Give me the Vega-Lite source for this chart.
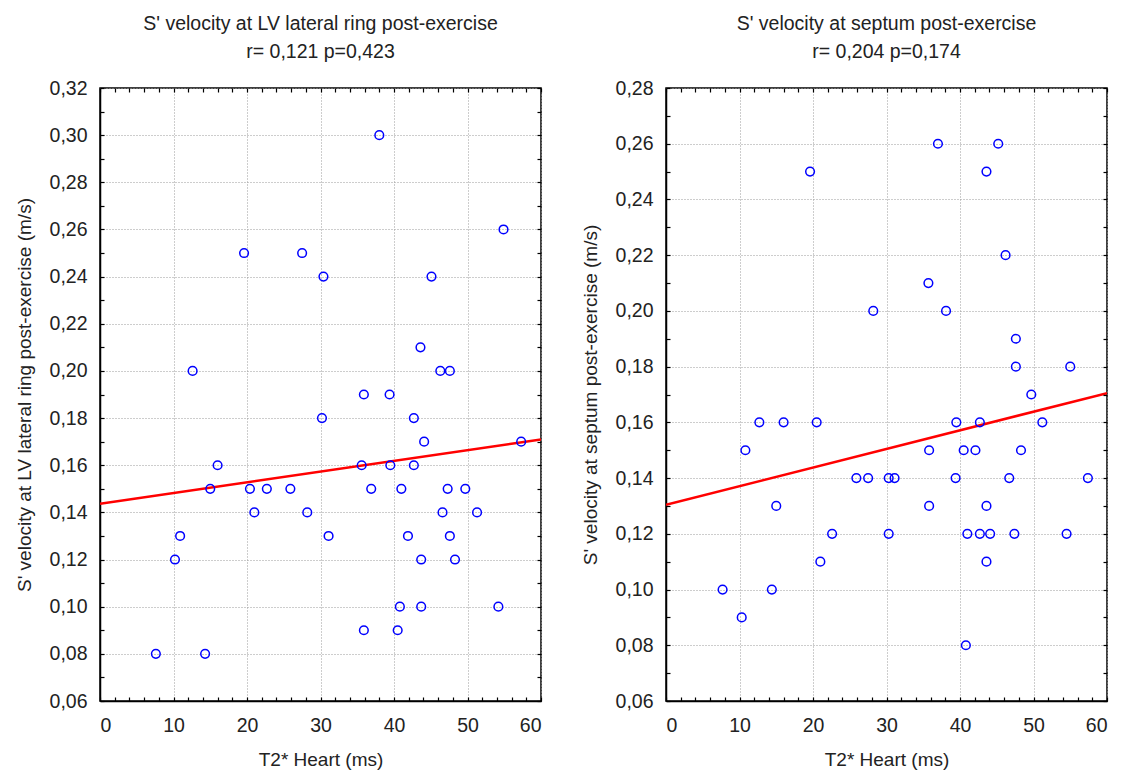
{
  "$schema": "https://vega.github.io/schema/vega-lite/v6.json",
  "background": "white",
  "padding": {"left": 14, "top": 12, "right": 3, "bottom": 0},
  "spacing": 37,
  "datasets": {
    "left": [
      {"t2": 7.6, "s": 0.08}, {"t2": 10.2, "s": 0.12}, {"t2": 10.9, "s": 0.13}, {"t2": 12.6, "s": 0.20},
      {"t2": 14.3, "s": 0.08}, {"t2": 15.0, "s": 0.15}, {"t2": 16.0, "s": 0.16}, {"t2": 19.6, "s": 0.25},
      {"t2": 20.4, "s": 0.15}, {"t2": 21.0, "s": 0.14}, {"t2": 22.7, "s": 0.15}, {"t2": 25.9, "s": 0.15},
      {"t2": 27.5, "s": 0.25}, {"t2": 28.2, "s": 0.14}, {"t2": 30.2, "s": 0.18}, {"t2": 30.4, "s": 0.24},
      {"t2": 31.1, "s": 0.13}, {"t2": 35.6, "s": 0.16}, {"t2": 35.9, "s": 0.19}, {"t2": 35.9, "s": 0.09},
      {"t2": 36.9, "s": 0.15}, {"t2": 38.0, "s": 0.30}, {"t2": 39.4, "s": 0.19}, {"t2": 39.5, "s": 0.16},
      {"t2": 40.5, "s": 0.09}, {"t2": 40.8, "s": 0.10}, {"t2": 41.0, "s": 0.15}, {"t2": 41.9, "s": 0.13},
      {"t2": 42.7, "s": 0.18}, {"t2": 42.7, "s": 0.16}, {"t2": 43.6, "s": 0.21}, {"t2": 43.7, "s": 0.12},
      {"t2": 43.7, "s": 0.10}, {"t2": 44.1, "s": 0.17}, {"t2": 45.1, "s": 0.24}, {"t2": 46.3, "s": 0.20},
      {"t2": 46.6, "s": 0.14}, {"t2": 47.3, "s": 0.15}, {"t2": 47.6, "s": 0.20}, {"t2": 47.6, "s": 0.13},
      {"t2": 48.3, "s": 0.12}, {"t2": 49.7, "s": 0.15}, {"t2": 51.3, "s": 0.14}, {"t2": 54.2, "s": 0.10},
      {"t2": 54.9, "s": 0.26}, {"t2": 57.3, "s": 0.17}
    ],
    "leftFit": [{"t2": 0, "s": 0.1437}, {"t2": 60, "s": 0.1709}],
    "right": [
      {"t2": 7.7, "s": 0.10}, {"t2": 10.3, "s": 0.09}, {"t2": 10.8, "s": 0.15}, {"t2": 12.7, "s": 0.16},
      {"t2": 14.4, "s": 0.10}, {"t2": 15.0, "s": 0.13}, {"t2": 16.0, "s": 0.16}, {"t2": 19.6, "s": 0.25},
      {"t2": 20.5, "s": 0.16}, {"t2": 21.0, "s": 0.11}, {"t2": 22.6, "s": 0.12}, {"t2": 25.9, "s": 0.14},
      {"t2": 27.5, "s": 0.14}, {"t2": 28.2, "s": 0.20}, {"t2": 30.3, "s": 0.14}, {"t2": 30.3, "s": 0.12},
      {"t2": 31.1, "s": 0.14}, {"t2": 35.7, "s": 0.21}, {"t2": 35.8, "s": 0.15}, {"t2": 35.8, "s": 0.13},
      {"t2": 37.0, "s": 0.26}, {"t2": 38.1, "s": 0.20}, {"t2": 39.4, "s": 0.14}, {"t2": 39.5, "s": 0.16},
      {"t2": 40.5, "s": 0.15}, {"t2": 40.8, "s": 0.08}, {"t2": 41.0, "s": 0.12}, {"t2": 42.1, "s": 0.15},
      {"t2": 42.7, "s": 0.16}, {"t2": 42.7, "s": 0.12}, {"t2": 43.6, "s": 0.25}, {"t2": 43.6, "s": 0.13},
      {"t2": 43.6, "s": 0.11}, {"t2": 44.1, "s": 0.12}, {"t2": 45.2, "s": 0.26}, {"t2": 46.2, "s": 0.22},
      {"t2": 46.7, "s": 0.14}, {"t2": 47.4, "s": 0.12}, {"t2": 47.6, "s": 0.19}, {"t2": 47.6, "s": 0.18},
      {"t2": 48.3, "s": 0.15}, {"t2": 49.7, "s": 0.17}, {"t2": 51.2, "s": 0.16}, {"t2": 54.5, "s": 0.12},
      {"t2": 55.0, "s": 0.18}, {"t2": 57.4, "s": 0.14}
    ],
    "rightFit": [{"t2": 0, "s": 0.1304}, {"t2": 60, "s": 0.1705}]
  },
  "hconcat": [
    {
      "width": 441,
      "height": 613,
      "title": {"text": ["S' velocity at LV lateral ring post-exercise", "r= 0,121 p=0,423"]},
      "layer": [
        {
          "data": {"name": "leftFit"},
          "mark": {"type": "line", "color": "#ff0000", "strokeWidth": 2.5, "clip": true},
          "encoding": {
            "x": {"field": "t2", "type": "quantitative", "scale": {"domain": [0, 60], "nice": false},
              "axis": {"orient": "top", "title": null, "labels": false, "grid": false, "domain": false, "ticks": true, "tickSize": -4, "tickColor": "#000000", "tickWidth": 1.2, "zindex": 2,
                "values": [0,2,4,6,8,10,12,14,16,18,20,22,24,26,28,30,32,34,36,38,40,42,44,46,48,50,52,54,56,58,60]}},
            "y": {"field": "s", "type": "quantitative", "scale": {"domain": [0.06, 0.32], "nice": false, "zero": false},
              "axis": {"orient": "right", "title": null, "labels": false, "grid": false, "domain": false, "ticks": true, "tickSize": -4, "tickColor": "#000000", "tickWidth": 1.2, "zindex": 2,
                "values": [0.06,0.07,0.08,0.09,0.10,0.11,0.12,0.13,0.14,0.15,0.16,0.17,0.18,0.19,0.20,0.21,0.22,0.23,0.24,0.25,0.26,0.27,0.28,0.29,0.30,0.31,0.32]}}
          }
        },
        {
          "data": {"name": "left"},
          "mark": {"type": "point", "shape": "circle", "filled": false, "color": "#0000ff", "size": 75, "strokeWidth": 1.5, "opacity": 1},
          "encoding": {
            "x": {"field": "t2", "type": "quantitative", "title": "T2* Heart (ms)",
              "axis": {"orient": "bottom", "ticks": true, "tickSize": -4, "tickColor": "#000000", "tickWidth": 1.2, "domain": true, "grid": true, "labelPadding": 19, "titlePadding": 16,
                "values": [0,2,4,6,8,10,12,14,16,18,20,22,24,26,28,30,32,34,36,38,40,42,44,46,48,50,52,54,56,58,60],
                "labelExpr": "datum.value % 10 === 0 ? datum.label : ''",
                "gridOpacity": {"condition": {"test": "datum.value % 10 === 0", "value": 1}, "value": 0}}},
            "y": {"field": "s", "type": "quantitative", "title": "S' velocity at LV lateral ring post-exercise (m/s)",
              "axis": {"orient": "left", "ticks": true, "tickSize": -4, "tickColor": "#000000", "tickWidth": 1.2, "domain": true, "grid": true, "labelPadding": 17, "titlePadding": 14.5,
                "values": [0.06,0.07,0.08,0.09,0.10,0.11,0.12,0.13,0.14,0.15,0.16,0.17,0.18,0.19,0.20,0.21,0.22,0.23,0.24,0.25,0.26,0.27,0.28,0.29,0.30,0.31,0.32],
                "labelExpr": "round(datum.value*100) % 2 === 0 ? replace(format(datum.value, '.2f'), '.', ',') : ''",
                "gridOpacity": {"condition": {"test": "round(datum.value*100) % 2 === 0", "value": 1}, "value": 0}}}
          }
        }
      ],
      "resolve": {"axis": {"x": "independent", "y": "independent"}}
    },
    {
      "width": 441,
      "height": 613,
      "title": {"text": ["S' velocity at septum post-exercise", "r= 0,204 p=0,174"]},
      "layer": [
        {
          "data": {"name": "rightFit"},
          "mark": {"type": "line", "color": "#ff0000", "strokeWidth": 2.5, "clip": true},
          "encoding": {
            "x": {"field": "t2", "type": "quantitative", "scale": {"domain": [0, 60], "nice": false},
              "axis": {"orient": "top", "title": null, "labels": false, "grid": false, "domain": false, "ticks": true, "tickSize": -4, "tickColor": "#000000", "tickWidth": 1.2, "zindex": 2,
                "values": [0,2,4,6,8,10,12,14,16,18,20,22,24,26,28,30,32,34,36,38,40,42,44,46,48,50,52,54,56,58,60]}},
            "y": {"field": "s", "type": "quantitative", "scale": {"domain": [0.06, 0.28], "nice": false, "zero": false},
              "axis": {"orient": "right", "title": null, "labels": false, "grid": false, "domain": false, "ticks": true, "tickSize": -4, "tickColor": "#000000", "tickWidth": 1.2, "zindex": 2,
                "values": [0.06,0.07,0.08,0.09,0.10,0.11,0.12,0.13,0.14,0.15,0.16,0.17,0.18,0.19,0.20,0.21,0.22,0.23,0.24,0.25,0.26,0.27,0.28]}}
          }
        },
        {
          "data": {"name": "right"},
          "mark": {"type": "point", "shape": "circle", "filled": false, "color": "#0000ff", "size": 75, "strokeWidth": 1.5, "opacity": 1},
          "encoding": {
            "x": {"field": "t2", "type": "quantitative", "title": "T2* Heart (ms)",
              "axis": {"orient": "bottom", "ticks": true, "tickSize": -4, "tickColor": "#000000", "tickWidth": 1.2, "domain": true, "grid": true, "labelPadding": 19, "titlePadding": 16,
                "values": [0,2,4,6,8,10,12,14,16,18,20,22,24,26,28,30,32,34,36,38,40,42,44,46,48,50,52,54,56,58,60],
                "labelExpr": "datum.value % 10 === 0 ? datum.label : ''",
                "gridOpacity": {"condition": {"test": "datum.value % 10 === 0", "value": 1}, "value": 0}}},
            "y": {"field": "s", "type": "quantitative", "title": "S' velocity at septum post-exercise (m/s)",
              "axis": {"orient": "left", "ticks": true, "tickSize": -4, "tickColor": "#000000", "tickWidth": 1.2, "domain": true, "grid": true, "labelPadding": 17, "titlePadding": 14.5,
                "values": [0.06,0.07,0.08,0.09,0.10,0.11,0.12,0.13,0.14,0.15,0.16,0.17,0.18,0.19,0.20,0.21,0.22,0.23,0.24,0.25,0.26,0.27,0.28],
                "labelExpr": "round(datum.value*100) % 2 === 0 ? replace(format(datum.value, '.2f'), '.', ',') : ''",
                "gridOpacity": {"condition": {"test": "round(datum.value*100) % 2 === 0", "value": 1}, "value": 0}}}
          }
        }
      ],
      "resolve": {"axis": {"x": "independent", "y": "independent"}}
    }
  ],
  "config": {
    "font": "Liberation Sans",
    "view": {"stroke": "#000000", "strokeWidth": 1.5},
    "title": {"font": "Liberation Sans", "fontSize": 19.5, "fontWeight": "normal", "color": "#222222", "anchor": "middle", "offset": 16, "lineHeight": 28},
    "axis": {
      "labelFont": "Liberation Sans", "labelFontSize": 19.5, "labelColor": "#222222",
      "titleFont": "Liberation Sans", "titleFontSize": 19, "titleFontWeight": "normal", "titleColor": "#222222",
      "domainColor": "#000000", "domainWidth": 1.5,
      "gridColor": "#9a9a9a", "gridDash": [1, 2], "gridWidth": 1
    }
  }
}
